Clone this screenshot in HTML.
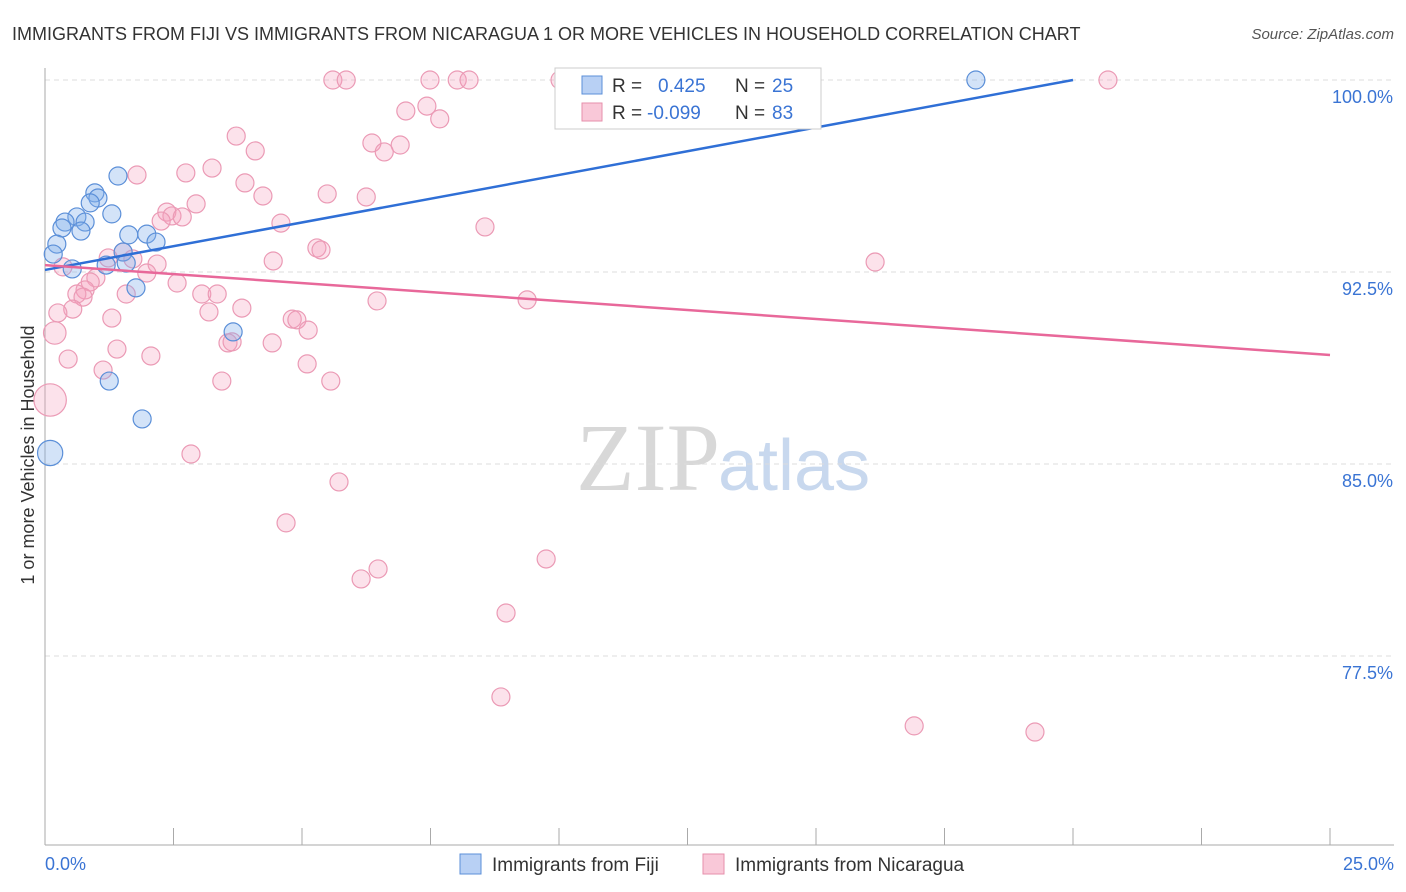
<!DOCTYPE html>
<html><head><meta charset="utf-8"><style>
body{margin:0;background:#fff;font-family:"Liberation Sans",sans-serif;}
#wrap{position:relative;width:1406px;height:892px;overflow:hidden;}
</style></head><body>
<div id="wrap">
<svg id="svg" width="1406" height="892" xmlns="http://www.w3.org/2000/svg">
<text x="12" y="40" font-size="18" fill="#333">IMMIGRANTS FROM FIJI VS IMMIGRANTS FROM NICARAGUA 1 OR MORE VEHICLES IN HOUSEHOLD CORRELATION CHART</text>
<text x="1394" y="39" font-size="15" fill="#555" font-style="italic" text-anchor="end">Source: ZipAtlas.com</text>
<text x="720" y="490" font-size="96" fill="#d8d8d8" text-anchor="end" font-family="Liberation Serif,serif">ZIP</text>
<text x="718" y="490" font-size="72" fill="#c8d8ee">atlas</text>
<text transform="translate(34,455) rotate(-90)" font-size="18" fill="#333" text-anchor="middle">1 or more Vehicles in Household</text>
<g id="grid"></g><g id="axes"></g><g id="pts"></g><g id="lines"></g>
<g>
<rect x="555" y="68" width="266" height="61" fill="#fff" stroke="#ccc"/>
<rect x="582" y="76" width="20" height="18" fill="#b8d0f4" stroke="#5b8fd8"/>
<rect x="582" y="103" width="20" height="18" fill="#f9c8d8" stroke="#e68fab"/>
<text x="612" y="92" font-size="19" fill="#333">R = </text><text x="658" y="92" font-size="19" fill="#3a74d4">0.425</text>
<text x="735" y="92" font-size="19" fill="#333">N = </text><text x="772" y="92" font-size="19" fill="#3a74d4">25</text>
<text x="612" y="119" font-size="19" fill="#333">R = </text><text x="647" y="119" font-size="19" fill="#3a74d4">-0.099</text>
<text x="735" y="119" font-size="19" fill="#333">N = </text><text x="772" y="119" font-size="19" fill="#3a74d4">83</text>
</g>
<g>
<rect x="460" y="854" width="21" height="20" fill="#b8d0f4" stroke="#5b8fd8"/>
<text x="492" y="871" font-size="19" fill="#333">Immigrants from Fiji</text>
<rect x="703" y="854" width="21" height="20" fill="#f9c8d8" stroke="#e68fab"/>
<text x="735" y="871" font-size="19" fill="#333">Immigrants from Nicaragua</text>
</g>
</svg>
</div>
<script>
const xTicks=[0,2.5,5,7.5,10,12.5,15,17.5,20,22.5,25];
const yTicks=[100,92.5,85,77.5];
const yTickLabels=["100.0%","92.5%","85.0%","77.5%"];
const xEndLabels=["0.0%","25.0%"];
const fijiX=[18.11,1.42,0.97,1.03,0.88,1.30,0.62,0.39,0.78,0.33,0.70,1.63,1.98,2.16,0.23,0.16,1.52,1.58,1.19,0.53,1.77,3.66,1.25,1.89,0.10];
const fijiY=[100,96.25,95.59,95.39,95.20,94.77,94.65,94.45,94.45,94.22,94.10,93.95,93.98,93.67,93.59,93.20,93.28,92.85,92.77,92.62,91.88,90.16,88.24,86.76,85.43];
const fijiSize=[1,1,1,1,1,1,1,1,1,1,1,1,1,1,1,1,1,1,1,1,1,1,1,1,1.4];
const nicX=[20.68,5.60,5.86,7.49,8.02,8.25,10.02,7.02,7.43,7.68,3.72,4.09,6.36,6.91,6.60,1.79,2.74,3.25,3.89,4.24,5.49,6.25,2.94,2.37,2.47,2.67,2.26,4.59,8.56,5.29,5.37,4.44,16.15,2.18,1.98,1.52,1.71,1.23,0.35,0.99,0.88,2.57,0.78,0.62,0.74,1.58,3.05,3.35,6.46,9.38,0.54,0.25,1.30,3.19,3.83,4.81,4.90,5.12,0.19,3.56,3.64,4.42,1.40,2.06,0.45,5.10,1.13,3.44,5.56,0.10,2.84,5.72,4.69,9.75,6.48,6.15,8.97,8.87,16.91,19.26];
const nicY=[100,100,100,100,100,100,100,98.79,98.98,98.48,97.81,97.23,97.54,97.46,97.19,96.29,96.37,96.56,95.98,95.47,95.55,95.43,95.16,94.84,94.69,94.65,94.49,94.41,94.26,93.44,93.36,92.93,92.89,92.81,92.46,93.28,93.01,93.05,92.70,92.27,92.11,92.07,91.80,91.64,91.52,91.64,91.64,91.64,91.37,91.41,91.05,90.90,90.70,90.94,91.09,90.66,90.63,90.23,90.12,89.73,89.77,89.73,89.49,89.22,89.10,88.91,88.67,88.24,88.24,87.50,85.39,84.30,82.70,81.29,80.90,80.51,79.18,75.90,74.77,74.53];
const nicSize=nicY.map((v,i)=>i===58?1.25:(i===69?1.8:1));
const fijiTrendX=[0,20];
const fijiTrendY=[92.58,100];
const nicTrendX=[0,25];
const nicTrendY=[92.77,89.26];
const sx=v=>45+v*51.4, sy=v=>80+(100-v)*25.6;
const NS="http://www.w3.org/2000/svg";
function mk(tag,attrs,parent){const e=document.createElementNS(NS,tag);for(const k in attrs)e.setAttribute(k,attrs[k]);parent.appendChild(e);return e;}
const grid=document.getElementById('grid'),axes=document.getElementById('axes'),pts=document.getElementById('pts'),lines=document.getElementById('lines');
yTicks.forEach((t,i)=>{
 const g=mk('line',{x1:45,x2:1394,y1:sy(t),y2:sy(t),stroke:'#ddd','stroke-dasharray':'5,4'},grid);
 
 
 const tx=mk('text',{x:1393,y:sy(t)+23,'font-size':18,fill:'#3a74d4','text-anchor':'end'},axes);
 tx.textContent=yTickLabels[i];
 
 
});
const ax=mk('line',{x1:45,x2:45,y1:68,y2:845,stroke:'#aaa'},axes);


const bx=mk('line',{x1:45,x2:1394,y1:845,y2:845,stroke:'#aaa'},axes);


xTicks.forEach(t=>{
 const l=mk('line',{x1:sx(t),x2:sx(t),y1:828,y2:845,stroke:'#aaa'},axes);
 
 
});
const xl0=mk('text',{x:45,y:870,'font-size':18,fill:'#3a74d4'},axes);xl0.textContent=xEndLabels[0];


const xl1=mk('text',{x:1394,y:870,'font-size':18,fill:'#3a74d4','text-anchor':'end'},axes);xl1.textContent=xEndLabels[1];


nicX.forEach((x,i)=>{
 const c=mk('circle',{cx:sx(x),cy:sy(nicY[i]),r:9*nicSize[i],fill:'rgba(244,160,190,0.3)',stroke:'#eb9ab5','stroke-width':1.2},pts);
 
 
});
fijiX.forEach((x,i)=>{
 const c=mk('circle',{cx:sx(x),cy:sy(fijiY[i]),r:9*fijiSize[i],fill:'rgba(130,175,235,0.35)',stroke:'#5b8fd8','stroke-width':1.2},pts);
 
 
});
const l1=mk('line',{x1:sx(fijiTrendX[0]),y1:sy(fijiTrendY[0]),x2:sx(fijiTrendX[1]),y2:sy(fijiTrendY[1]),stroke:'#2f6fd6','stroke-width':2.5},lines);


const l2=mk('line',{x1:sx(nicTrendX[0]),y1:sy(nicTrendY[0]),x2:sx(nicTrendX[1]),y2:sy(nicTrendY[1]),stroke:'#e8689a','stroke-width':2.5},lines);


</script>
</body></html>
